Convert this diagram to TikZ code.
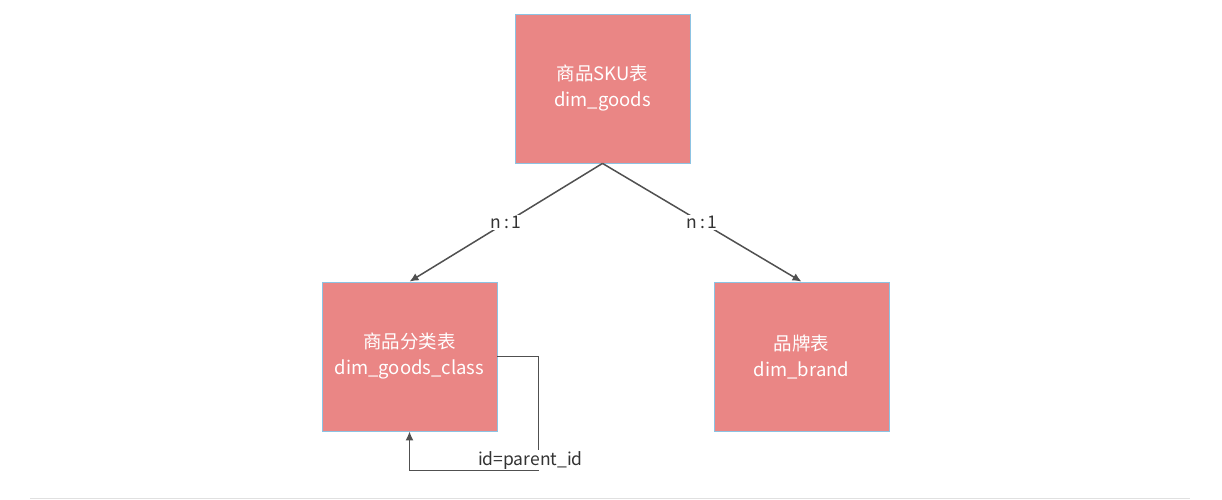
\documentclass[tikz,border=0pt]{standalone}
\usepackage{fontspec}
\setmainfont{Noto Sans CJK SC}
\usepackage{tikz}
\usetikzlibrary{calc, arrows.meta, positioning}
\definecolor{boxfill}{HTML}{EA8685}
\definecolor{boxline}{HTML}{8CC3E3}
\definecolor{linkgray}{HTML}{505050}
\tikzstyle{table}=[shape=rectangle, minimum height=149pt, minimum width=175pt, draw=boxline, fill=boxfill, line width=0.8pt, text=white, align=center, font=\fontsize{18.5}{26}\selectfont]
\tikzstyle{link}=[draw=linkgray, line width=1.5pt, -{Latex[length=9pt,width=8pt]}]
\tikzstyle{lbl}=[fill=white, inner sep=1pt, text=black!80, font=\fontsize{17.5}{20}\selectfont]

\begin{document}
\begin{tikzpicture}[x=1pt,y=-1pt]
\useasboundingbox (0,0) rectangle (1222,500);
\node[table] (goods) at (602.5,88.5) {商品SKU表\\dim\_goods};
\node[table] (cls) at (409.5,356.5) {商品分类表\\dim\_goods\_class};
\node[table] (brand) at (801.5,356.5) {品牌表\\dim\_brand};
%relations
\draw[link] (goods.south) -- node[lbl]{n\,:\,1} (cls.north);
\draw[link] (goods.south) -- node[lbl]{n\,:\,1} (brand.north);
%self reference
\coordinate (loop) at ($(cls.south east)+(41,39)$);
\draw[link] (cls.east) -| (loop) -| (cls.south);
\node[lbl] (pid) at ($(loop)+(-8,-10)$) {id=parent\_id};
%bottom rule
\draw[black!12, line width=1pt] (30,498.5) -- (1190,498.5);
\end{tikzpicture}
\end{document}
